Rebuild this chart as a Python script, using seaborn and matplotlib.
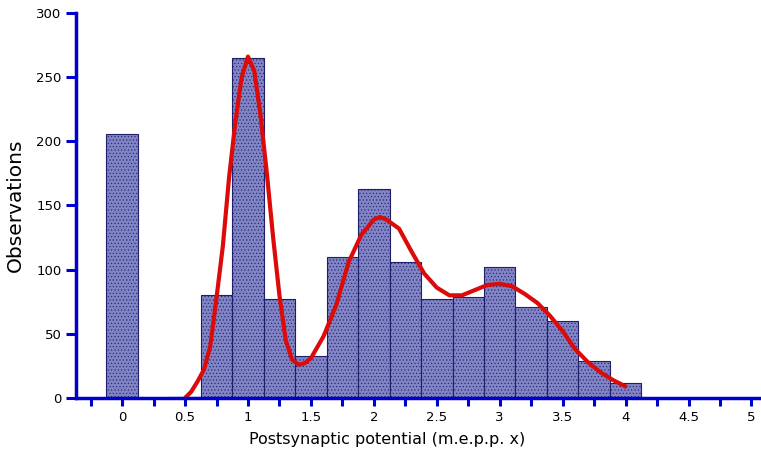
import numpy as np
import pandas as pd
import matplotlib
matplotlib.use('Agg')
import matplotlib.pyplot as plt
import seaborn as sns

# histogram bins (centres, width 0.25) and counts
bin_centers = [0, 0.25, 0.5, 0.75, 1.0, 1.25, 1.5, 1.75, 2.0, 2.25, 2.5,
               2.75, 3.0, 3.25, 3.5, 3.75, 4.0]
counts = [206, 0, 1, 80, 265, 77, 33, 110, 163, 106, 77,
          79, 102, 71, 60, 29, 12]

# fitted curve (red)
fit_x = [0.5, 0.55, 0.6, 0.65, 0.7, 0.75, 0.8, 0.85, 0.9, 0.95, 1.0,
         1.05, 1.1, 1.15, 1.2, 1.25, 1.3, 1.35, 1.4, 1.45, 1.5, 1.6,
         1.7, 1.8, 1.9, 2.0, 2.05, 2.1, 2.2, 2.3, 2.4, 2.5, 2.6, 2.7,
         2.8, 2.9, 3.0, 3.1, 3.2, 3.3, 3.4, 3.5, 3.6, 3.7, 3.8, 3.9, 4.0]
fit_y = [0, 5, 13, 22, 40, 78, 118, 172, 215, 250, 266,
         255, 220, 175, 125, 80, 45, 30, 26, 27, 31, 48,
         72, 106, 127, 139, 141, 139, 132, 114, 97, 86, 80, 80,
         84, 88, 89, 87, 81, 74, 64, 52, 38, 28, 20, 14, 9]

x_major = [0, 0.5, 1, 1.5, 2, 2.5, 3, 3.5, 4, 4.5, 5]
x_labels = ['0', '0.5', '1', '1.5', '2', '2.5', '3', '3.5', '4', '4.5', '5']
y_ticks = [0, 50, 100, 150, 200, 250, 300]

sns.set_style('ticks')
plt.rcParams['font.family'] = ['DejaVu Sans']
plt.rcParams['hatch.linewidth'] = 0.4

fig = plt.figure(figsize=(7.61, 4.53), dpi=100)
ax = fig.add_axes([0.0999, 0.1214, 0.8975, 0.85])

hist_df = pd.DataFrame({'x': bin_centers, 'n': counts})
sns.histplot(data=hist_df, x='x', weights='n', binwidth=0.25,
             binrange=(-0.125, 4.125), ax=ax, color='#8083c4', alpha=1,
             edgecolor='#1e1e6a', linewidth=0.8, hatch='.....')

fit_df = pd.DataFrame({'x': fit_x, 'y': fit_y})
sns.lineplot(data=fit_df, x='x', y='y', ax=ax, color='#dd0a0a',
             linewidth=3, sort=False)

ax.set_xlim(-0.366, 5.06)
ax.set_ylim(0, 300)
ax.set_xticks(x_major)
ax.set_xticklabels(x_labels)
ax.set_xticks(np.arange(-0.25, 5.01, 0.25), minor=True)
ax.set_yticks(y_ticks)

for side in ['top', 'right']:
    ax.spines[side].set_visible(False)
for side in ['left', 'bottom']:
    ax.spines[side].set_color('#0000cc')
    ax.spines[side].set_linewidth(2.5)
ax.tick_params(axis='both', which='both', color='#0000cc', width=2.2,
               direction='out', labelsize=9.5, labelcolor='black')
ax.tick_params(axis='y', length=7.5, pad=3)
ax.tick_params(axis='x', which='both', length=5.5)
ax.tick_params(axis='x', which='major', pad=4)

ax.set_xlabel('Postsynaptic potential (m.e.p.p. x)', fontsize=11.5, color='black')
ax.xaxis.set_label_coords(0.455, -0.088)
ax.set_ylabel('Observations', fontsize=14.5, labelpad=8, color='black')

fig.savefig('out.png', dpi=100)
